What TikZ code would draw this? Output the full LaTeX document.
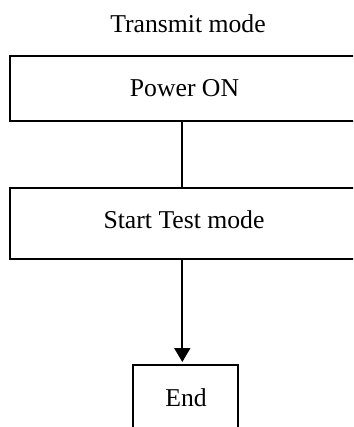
\documentclass[tikz,border=0pt]{standalone}
\usepackage{fontspec}
\setmainfont{Liberation Serif}
\usetikzlibrary{arrows.meta}
\begin{document}
\begin{tikzpicture}[x=1pt,y=-1pt,
  boxst/.style={draw=black,line width=2pt,inner sep=0pt},
  lbl/.style={font=\fontsize{25.7pt}{30pt}\selectfont,inner sep=0pt,anchor=base},
  conn/.style={draw=black,line width=1.8pt},
  arr/.style={conn,-{Triangle[width=16pt,length=14pt]}}]
\clip (0,0) rectangle (353,427);
\useasboundingbox (0,0) rectangle (353,427);
% boxes
\node[boxst,minimum width=344.6pt,minimum height=65pt] (b1) at (182.3,88.5) {};
\node[boxst,minimum width=344.6pt,minimum height=71pt] (b2) at (182.3,223.5) {};
\node[boxst,minimum width=105pt,minimum height=80pt] (b3) at (185.5,405) {};
% texts
\node[lbl] (title) at (188,33) {Transmit mode};
\node[lbl] (t1) at (184.5,96.7) {Power ON};
\node[lbl] (t2) at (184,228.5) {Start Test mode};
\node[lbl] (t3) at (186,406.5) {End};
% connectors
\draw[conn] (b1.south) -- (b2.north);
\draw[arr] (b2.south) -- ([yshift=2pt]b2.south |- b3.north);
\end{tikzpicture}
\end{document}
